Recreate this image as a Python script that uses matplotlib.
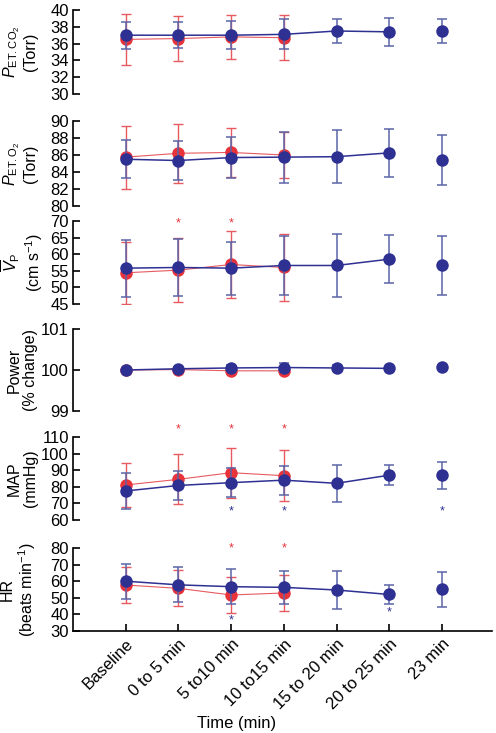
import matplotlib
matplotlib.use('Agg')
import matplotlib.pyplot as plt
import numpy as np

plt.rcParams['font.family'] = ['Liberation Sans', 'DejaVu Sans']
plt.rcParams['mathtext.fontset'] = 'custom'
plt.rcParams['mathtext.rm'] = 'Liberation Sans'
plt.rcParams['mathtext.it'] = 'Liberation Sans:italic'
plt.rcParams['mathtext.bf'] = 'Liberation Sans:bold'

BLUE = '#2e3192'
BLUE_ERR = '#5a64a8'
RED = '#e8333b'
RED_ERR = '#e65a60'

labels = ['Baseline', '0 to 5 min', '5 to10 min', '10 to15 min',
          '15 to 20 min', '20 to 25 min', '23 min']

petco2_blue = [37.0, 37.0, 37.0, 37.1, 37.5, 37.4, 37.5]
petco2_blue_sd = [1.6, 1.55, 1.7, 1.8, 1.4, 1.7, 1.4]
petco2_red = [36.5, 36.6, 36.8, 36.7]
petco2_red_sd = [3.0, 2.7, 2.65, 2.7]

peto2_blue = [85.5, 85.35, 85.7, 85.75, 85.8, 86.25, 85.4]
peto2_blue_sd = [2.25, 2.25, 2.4, 3.0, 3.15, 2.8, 2.9]
peto2_red = [85.75, 86.2, 86.3, 86.0]
peto2_red_sd = [3.7, 3.5, 2.9, 2.7]

vp_blue = [55.8, 56.0, 55.8, 56.6, 56.6, 58.5, 56.6]
vp_blue_sd = [8.6, 8.6, 8.0, 9.0, 9.5, 7.2, 9.0]
vp_red = [54.4, 55.2, 56.9, 56.0]
vp_red_sd = [9.3, 9.6, 10.0, 10.0]

power_blue = [100.0, 100.03, 100.05, 100.06, 100.05, 100.04, 100.07]
power_blue_sd = [0.02, 0.05, 0.07, 0.12, 0.08, 0.03, 0.04]
power_red = [100.0, 100.01, 99.98, 99.98]
power_red_sd = [0.02, 0.03, 0.03, 0.03]

map_blue = [77.5, 80.8, 82.5, 84.0, 82.1, 87.0, 86.9]
map_blue_sd = [11.0, 9.0, 8.6, 8.8, 11.0, 6.1, 8.2]
map_red = [81.1, 84.5, 88.5, 86.7]
map_red_sd = [13.5, 15.0, 15.0, 15.5]

hr_blue = [60.0, 57.8, 56.7, 56.3, 54.7, 52.0, 55.2]
hr_blue_sd = [10.5, 10.6, 10.7, 10.0, 11.3, 5.7, 10.5]
hr_red = [57.7, 55.7, 51.7, 52.9]
hr_red_sd = [11.0, 10.8, 10.7, 11.0]

# significance stars: (index, y in data units)
vp_red_stars = [(1, 69.3), (2, 69.3)]
map_red_stars = [(1, 114.8), (2, 114.8), (3, 114.8)]
map_blue_stars = [(2, 65.4), (3, 65.4), (6, 65.4)]
hr_red_stars = [(2, 80.0), (3, 80.0)]
hr_blue_stars = [(2, 36.6), (5, 41.4)]

panels = [
    dict(blue=petco2_blue, bsd=petco2_blue_sd, red=petco2_red, rsd=petco2_red_sd,
         ylim=(30, 40), ticks=np.arange(30, 41, 2),
         ylabel='$P_{\\mathrm{ET.CO}_2}$\n(Torr)', rect=(10, 94)),
    dict(blue=peto2_blue, bsd=peto2_blue_sd, red=peto2_red, rsd=peto2_red_sd,
         ylim=(80, 90), ticks=np.arange(80, 91, 2),
         ylabel='$P_{\\mathrm{ET.O}_2}$\n(Torr)', rect=(121, 206)),
    dict(blue=vp_blue, bsd=vp_blue_sd, red=vp_red, rsd=vp_red_sd,
         ylim=(45, 70), ticks=np.arange(45, 71, 5),
         ylabel='$\\overline{V}_{\\mathrm{P}}$\n(cm s$^{-1}$)', rect=(221, 304),
         rstars=vp_red_stars, labelx=-0.066),
    dict(blue=power_blue, bsd=power_blue_sd, red=power_red, rsd=power_red_sd,
         ylim=(99, 101), ticks=[99, 100, 101],
         ylabel='Power\n(% change)', rect=(329, 411)),
    dict(blue=map_blue, bsd=map_blue_sd, red=map_red, rsd=map_red_sd,
         ylim=(60, 110), ticks=np.arange(60, 111, 10),
         ylabel='MAP\n(mmHg)', rect=(437, 520),
         rstars=map_red_stars, bstars=map_blue_stars),
    dict(blue=hr_blue, bsd=hr_blue_sd, red=hr_red, rsd=hr_red_sd,
         ylim=(30, 80), ticks=np.arange(30, 81, 10),
         ylabel='HR\n(beats min$^{-1}$)', rect=(548, 631),
         rstars=hr_red_stars, bstars=hr_blue_stars),
]

W, H = 496, 733
fig = plt.figure(figsize=(W / 100, H / 100), dpi=100)

x = np.arange(1, len(labels) + 1)
left, right = 73, 492

for i, p in enumerate(panels):
    top, bot = p['rect']
    ax = fig.add_axes([left / W, 1 - bot / H, (right - left) / W, (bot - top) / H])
    nr = len(p['red'])
    xr = x[:nr]
    # red series
    ax.errorbar(xr, p['red'], yerr=p['rsd'], fmt='none', ecolor=RED_ERR,
                elinewidth=1.0, capsize=3.6, capthick=1.0, zorder=2)
    ax.plot(xr, p['red'], color=RED_ERR, lw=0.8, zorder=2)
    ax.plot(xr, p['red'], 'o', color=RED, ms=9, mec='none', zorder=3)
    # blue series
    ax.errorbar(x, p['blue'], yerr=p['bsd'], fmt='none', ecolor=BLUE_ERR,
                elinewidth=1.1, capsize=3.6, capthick=1.1, zorder=4)
    ax.plot(x[:6], p['blue'][:6], color=BLUE, lw=1.1, zorder=4)
    ax.plot(x, p['blue'], 'o', color=BLUE, ms=9, mec='none', zorder=5)

    for idx, yv in p.get('rstars', []):
        ax.text(x[idx], yv, '*', color=RED, fontsize=9, ha='center',
                va='center', clip_on=False)
    for idx, yv in p.get('bstars', []):
        ax.text(x[idx], yv, '*', color=BLUE, fontsize=9, ha='center',
                va='center', clip_on=False)

    ax.set_xlim(0, 7.95)
    ax.set_ylim(*p['ylim'])
    ax.set_yticks(p['ticks'])
    ax.tick_params(axis='y', direction='in', length=5, width=1.2,
                   labelsize=12, pad=3)
    ax.spines['top'].set_visible(False)
    ax.spines['right'].set_visible(False)
    ax.spines['left'].set_linewidth(1.2)
    ax.set_ylabel(p['ylabel'], fontsize=11.5, linespacing=1.1)
    ax.yaxis.set_label_coords(p.get('labelx', -0.083), 0.5)
    ax.patch.set_visible(False)

    if i == len(panels) - 1:
        ax.set_xticks(x)
        ax.set_xticklabels(labels, rotation=45, ha='right',
                           rotation_mode='anchor', fontsize=12)
        ax.tick_params(axis='x', direction='in', length=5, width=1.2, pad=4)
        ax.spines['bottom'].set_linewidth(1.2)
        ax.set_xlabel('Time (min)', fontsize=12)
        ax.xaxis.set_label_coords(0.39, -1.02)
    else:
        ax.spines['bottom'].set_visible(False)
        ax.set_xticks([])

fig.savefig('out.png', dpi=100)
